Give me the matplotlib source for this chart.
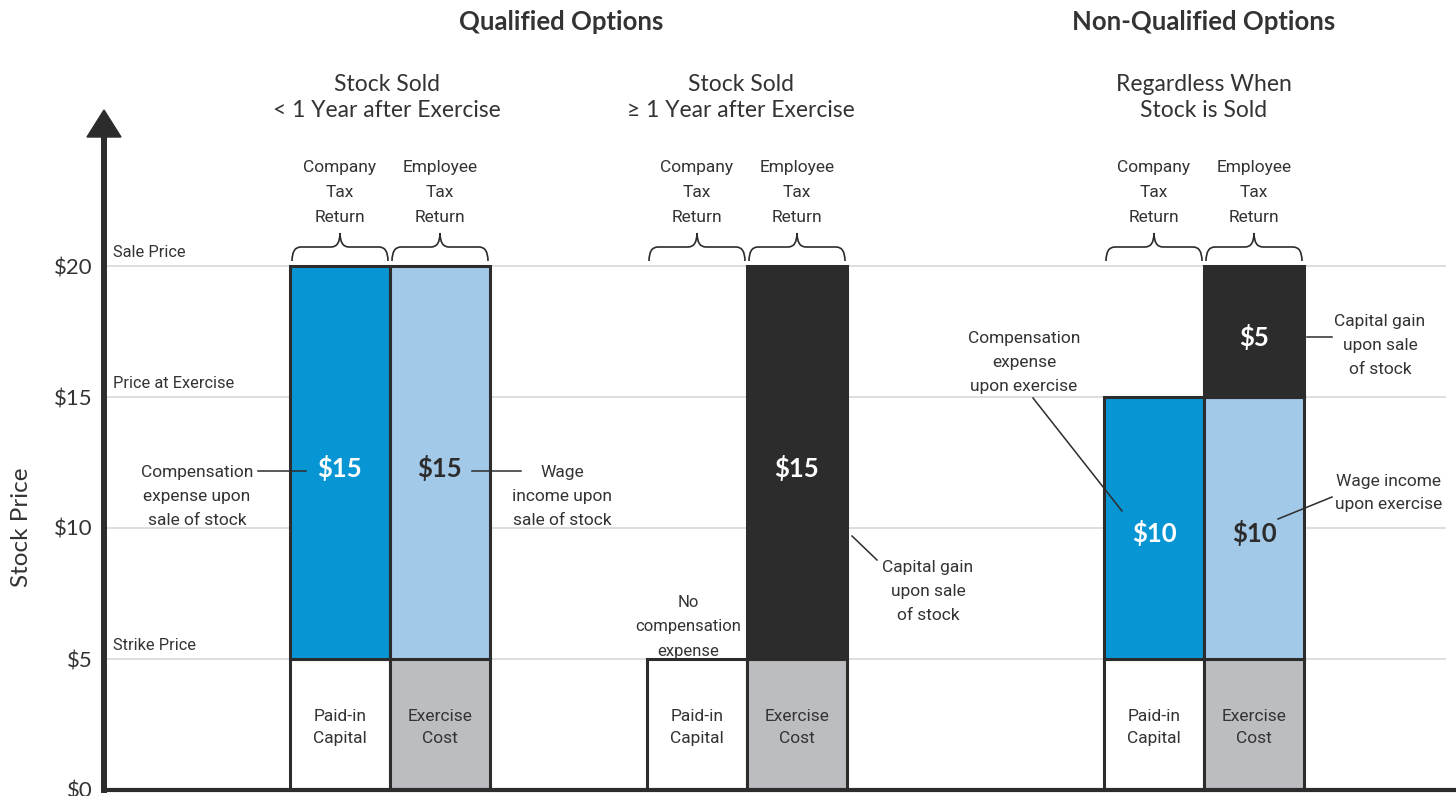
import matplotlib
matplotlib.use("Agg")
import matplotlib.pyplot as plt
from matplotlib.patches import Polygon, PathPatch
from matplotlib.path import Path

# ---- data ----
Y_TICKS = [0, 5, 10, 15, 20]
PRICE_LEVELS = [5, 15, 20]
PRICE_NAMES = ["Strike Price", "Price at Exercise", "Sale Price"]

SECTION_TITLES = ["Qualified Options", "Non-Qualified Options"]
GROUP_TITLES = [
    ["Stock Sold", "< 1 Year after Exercise"],
    ["Stock Sold", "\u2265 1 Year after Exercise"],
    ["Regardless When", "Stock is Sold"],
]
RETURN_LABELS = [["Company", "Tax", "Return"], ["Employee", "Tax", "Return"]]

PAID_IN_CAPITAL = [5, 5, 5]
COMP_EXPENSE = [15, 0, 10]
EXERCISE_COST = [5, 5, 5]
WAGE_INCOME = [15, 0, 10]
CAPITAL_GAIN = [0, 15, 5]

# ---- layout / style ----
W, H = 1456, 796
Y0_PX, PX_PER_DOLLAR, AX_TOP_PX, AX_LEFT_PX = 790, 26.2, 137, 104
GROUP_X = [390, 747, 1204]
HALF, BAR_W = 50, 100
SECTION_X = [561, 1204]

BLUE = "#0796d3"
LIGHT_BLUE = "#a3c9e9"
DARK = "#2d2c2d"
GREY = "#bcbdc0"
GRID = "#d4d4d4"
TXT = "#333333"

NARROW = ["Roboto", "DejaVu Sans"]
REG = ["Lato", "DejaVu Sans"]
NSIZE = 12.5

fig = plt.figure(figsize=(W / 100, H / 100), dpi=100)

ax = fig.add_axes([AX_LEFT_PX / W, (H - Y0_PX) / H, (W - AX_LEFT_PX) / W, (Y0_PX - AX_TOP_PX) / H])
ax.set_xlim(AX_LEFT_PX, W)
ax.set_ylim(0, (Y0_PX - AX_TOP_PX) / PX_PER_DOLLAR)
ax.patch.set_visible(False)
ax.set_zorder(1)

lay = fig.add_axes([0, 0, 1, 1])
lay.set_xlim(0, W)
lay.set_ylim(H, 0)
lay.axis("off")
lay.set_zorder(3)

# axes frame
for s in ["top", "right"]:
    ax.spines[s].set_visible(False)
ax.spines["left"].set_linewidth(4.3)
ax.spines["bottom"].set_linewidth(3.0)
for s in ["left", "bottom"]:
    ax.spines[s].set_color(DARK)
    ax.spines[s].set_capstyle("projecting")
ax.set_xticks([])
ax.set_yticks(Y_TICKS, [f"${v}" for v in Y_TICKS])
ax.tick_params(axis="y", length=0, pad=8, labelsize=16, labelcolor=TXT)
for lbl in ax.get_yticklabels():
    lbl.set_family(REG)
lay.add_patch(Polygon([(104, 110), (87, 137), (121, 137)], closed=True, color=DARK))
lay.text(22, 527, "Stock Price", rotation=90, ha="center", va="center",
         fontsize=17.5, color=TXT, family=REG)

# grid + price level names
ax.hlines(Y_TICKS[1:], 107, 1446, color=GRID, lw=1.1, zorder=0)
for lvl, name in zip(PRICE_LEVELS, PRICE_NAMES):
    ax.annotate(name, (113, lvl), xytext=(0, 10), textcoords="offset points",
                ha="left", va="center", fontsize=11.8, color=TXT, family=NARROW)

# bars
bar_kw = dict(width=BAR_W, edgecolor=DARK, linewidth=2.2, zorder=2)


def seg(x, h, b, color, label=None, lc="white"):
    if h <= 0:
        return
    r = ax.bar(x, h, bottom=b, color=color, **bar_kw)
    r[0].set_joinstyle("miter")
    if label:
        ax.text(x, b + h / 2 - 0.2, label, ha="center", va="center", fontsize=18.5,
                fontweight="bold", color=lc, family=REG, zorder=4)


for i, gx in enumerate(GROUP_X):
    cx, ex = gx - HALF, gx + HALF
    seg(cx, PAID_IN_CAPITAL[i], 0, "white")
    seg(cx, COMP_EXPENSE[i], PAID_IN_CAPITAL[i], BLUE, f"${COMP_EXPENSE[i]}", "white")
    seg(ex, EXERCISE_COST[i], 0, GREY)
    b = EXERCISE_COST[i]
    seg(ex, WAGE_INCOME[i], b, LIGHT_BLUE, f"${WAGE_INCOME[i]}", DARK)
    b += WAGE_INCOME[i]
    seg(ex, CAPITAL_GAIN[i], b, DARK, f"${CAPITAL_GAIN[i]}", "white")
    ax.text(cx, PAID_IN_CAPITAL[i] / 2 - 0.1, "Paid-in\nCapital", ha="center", va="center",
            fontsize=NSIZE, color=TXT, family=NARROW, linespacing=1.6, zorder=4)
    ax.text(ex, EXERCISE_COST[i] / 2 - 0.1, "Exercise\nCost", ha="center", va="center",
            fontsize=NSIZE, color=TXT, family=NARROW, linespacing=1.6, zorder=4)


def lines_at(x, y0, lines, step=24, size=NSIZE, family=NARROW, **kw):
    for k, s in enumerate(lines):
        lay.text(x, y0 + k * step + 6, s, ha="center", va="baseline", fontsize=size,
                 color=TXT, family=family, **kw)


def brace(x0, x1, yb=261, yf=247, yt=233, r=9):
    xc = (x0 + x1) / 2
    verts = [(x0, yb), (x0, yf), (x0 + r, yf), (xc - r, yf), (xc, yf), (xc, yt),
             (xc, yf), (xc + r, yf), (x1 - r, yf), (x1, yf), (x1, yb)]
    codes = [Path.MOVETO, Path.CURVE3, Path.CURVE3, Path.LINETO, Path.CURVE3, Path.CURVE3,
             Path.CURVE3, Path.CURVE3, Path.LINETO, Path.CURVE3, Path.CURVE3]
    lay.add_patch(PathPatch(Path(verts, codes), fill=False, edgecolor=DARK, lw=1.2))


def leader(p0, p1):
    lay.plot([p0[0], p1[0]], [p0[1], p1[1]], color=DARK, lw=1.1)


# titles and headers
for sx, t in zip(SECTION_X, SECTION_TITLES):
    lay.text(sx, 30, t, ha="center", va="baseline", fontsize=18.5, fontweight="bold",
             color=TXT, family=REG)
for gx, t in zip(GROUP_X, GROUP_TITLES):
    lines_at(gx - 3 if gx == 390 else gx - 6 if gx == 747 else gx, 85, t,
             step=26, size=16.5, family=REG)
    for j, bx in enumerate([gx - HALF, gx + HALF]):
        lines_at(bx, 166, RETURN_LABELS[j], step=25)
        brace(bx - 48, bx + 48)

# annotations
lines_at(197, 471, ["Compensation", "expense upon", "sale of stock"])
leader((258, 471), (306, 471))
lines_at(562, 471, ["Wage", "income upon", "sale of stock"])
leader((472, 471), (521, 471))

lines_at(928, 566, ["Capital gain", "upon sale", "of stock"])
leader((852, 536), (877, 560))
lines_at(688, 601, ["No", "compensation", "expense"], step=24.5, size=12)

lines_at(1024, 337, ["Compensation", "expense", "upon exercise"])
leader((1033, 398), (1122, 511))
lines_at(1389, 480, ["Wage income", "upon exercise"], step=23)
leader((1278, 519), (1332, 497))
lines_at(1380, 320, ["Capital gain", "upon sale", "of stock"])
leader((1307, 337), (1332, 337))

fig.savefig("out.png", dpi=100, facecolor="white")
